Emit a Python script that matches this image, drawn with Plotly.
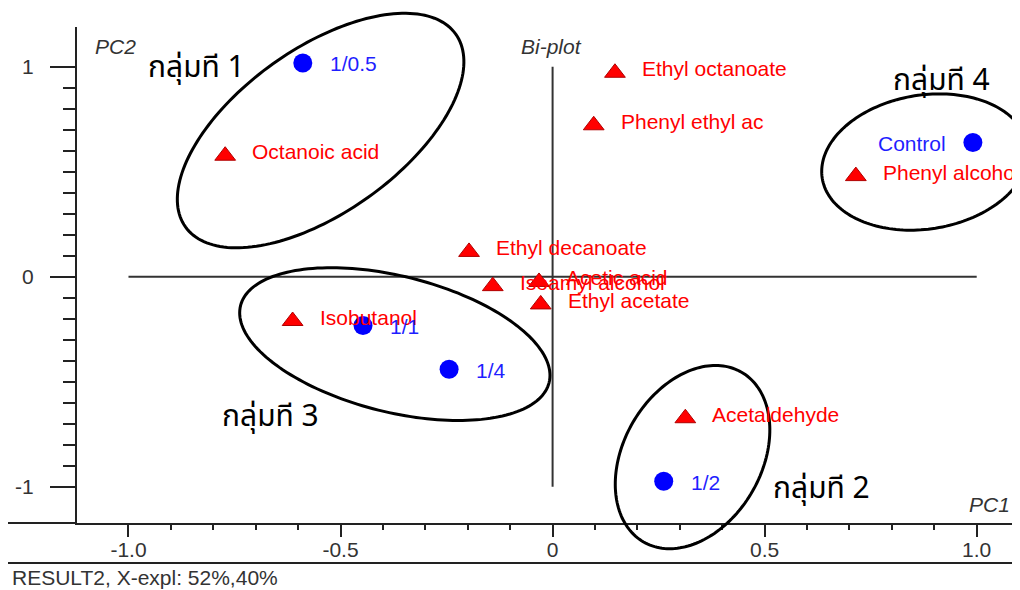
import numpy as np
import plotly.graph_objects as go

# ---------------- data ----------------
sample_names = ["1/0.5", "Control", "1/1", "1/4", "1/2"]
sample_pc1 = [-0.589, 0.991, -0.447, -0.244, 0.262]
sample_pc2 = [1.018, 0.639, -0.232, -0.441, -0.974]

var_names = ["Ethyl octanoate", "Phenyl ethyl ac", "Octanoic acid", "Phenyl alcohol",
             "Ethyl decanoate", "Isoamyl alcohol", "Acetic acid", "Ethyl acetate",
             "Isobutanol", "Acetaldehyde"]
var_pc1 = [0.147, 0.097, -0.772, 0.715, -0.197, -0.141, -0.032, -0.028, -0.613, 0.313]
var_pc2 = [0.971, 0.721, 0.576, 0.479, 0.118, -0.045, -0.025, -0.132, -0.211, -0.674]

group_labels = ["กลุ่มที 1", "กลุ่มที 2", "กลุ่มที 3", "กลุ่มที 4"]

x_tickvals = [-1.0, -0.5, 0.0, 0.5, 1.0]
x_ticktext = ["-1.0", "-0.5", "0", "0.5", "1.0"]
y_tickvals = [-1, 0, 1]
y_ticktext = ["-1", "0", "1"]

footer_text = "RESULT2, X-expl: 52%,40%"

# ---------------- layout geometry / styles ----------------
OFF = 8                      # page body margin of the html page
W, H = 1020 - OFF, 590 - OFF
# plot area in window pixels: x 77..1020, y 27..523
ML, MR, MT = 77 - OFF, 0, 27 - OFF
MB = H - (523 - OFF)
PW, PH = W - ML - MR, H - MT - MB
X0, X1 = -1.1214, 1.1021
Y0, Y1 = -1.1729, 1.189

# group label anchor positions (data coords) and ellipse geometry
group_label_pos = [(-0.954, 0.994), (0.520, -1.011), (-0.779, -0.668), (0.803, 0.932)]
# (center x, center y in data units, semi-major px, semi-minor px, angle deg)
ellipses = [(-0.547, 0.696, 166, 82, 35.5),
            (0.330, -0.859, 98, 69, 60.0),
            (-0.372, -0.321, 159, 68, -14.0),
            (0.878, 0.546, 104, 67, 9.0)]

FONT = "Liberation Sans, Arial, sans-serif"
THAI_FONT = "Noto Sans Thai, Loma, Garuda, Tlwg Typo, DejaVu Sans, sans-serif"
AX_COL = "#222222"
TXT_COL = "#333333"
BLUE = "#0000ff"
RED = "#ff0000"


def data_to_px(x, y):
    """data -> figure pixels"""
    return ML + (x - X0) / (X1 - X0) * PW, MT + (Y1 - y) / (Y1 - Y0) * PH


def win_to_paper(wx, wy):
    """window pixels -> paper coords"""
    fx, fy = wx - OFF, wy - OFF
    return (fx - ML) / PW, (H - MB - fy) / PH


def fig_to_paper(fx, fy):
    return (fx - ML) / PW, (H - MB - fy) / PH


fig = go.Figure()

fig.add_trace(go.Scatter(
    x=var_pc1, y=var_pc2, mode="markers",
    marker=dict(symbol="triangle-up", size=18, color=RED,
                line=dict(color="#b00000", width=1)),
    hoverinfo="text", text=var_names, showlegend=False))

fig.add_trace(go.Scatter(
    x=sample_pc1, y=sample_pc2, mode="markers",
    marker=dict(symbol="circle", size=19, color=BLUE, line=dict(width=0)),
    hoverinfo="text", text=sample_names, showlegend=False))

annotations = []
for name, x, y in zip(var_names, var_pc1, var_pc2):
    annotations.append(dict(x=x, y=y, xref="x", yref="y", text=name, showarrow=False,
                            xanchor="left", yanchor="middle", xshift=25, yshift=4,
                            font=dict(family=FONT, size=21, color=RED)))
for name, x, y in zip(sample_names, sample_pc1, sample_pc2):
    right = name == "Control"
    annotations.append(dict(x=x, y=y, xref="x", yref="y", text=name, showarrow=False,
                            xanchor="right" if right else "left", yanchor="middle",
                            xshift=-25 if right else 25, yshift=-1,
                            font=dict(family=FONT, size=21, color="#1f1fff")))

for lab, (gx, gy) in zip(group_labels, group_label_pos):
    annotations.append(dict(x=gx, y=gy, xref="x", yref="y", text=lab, showarrow=False,
                            xanchor="left", yanchor="middle", xshift=-2,
                            font=dict(family=THAI_FONT, size=30, color="#000000")))


def win_annot(text, wx, wy, xanchor, size=21, italic=True, color=TXT_COL, family=FONT):
    xp, yp = win_to_paper(wx, wy)
    return dict(x=xp, y=yp, xref="paper", yref="paper", text=text, showarrow=False,
                xanchor=xanchor, yanchor="middle",
                font=dict(family=family, size=size, color=color,
                          style="italic" if italic else "normal"))


annotations.append(win_annot("PC2", 93, 46, "left"))
annotations.append(win_annot("Bi-plot", 519, 46, "left"))
annotations.append(win_annot("PC1", 1012, 504, "right"))
annotations.append(win_annot(footer_text, 10, 577, "left", italic=False))

shapes = []
# bi-plot cross lines
shapes.append(dict(type="line", xref="x", yref="y", x0=-1, x1=1, y0=0, y1=0,
                   line=dict(color="#333333", width=2), layer="below"))
shapes.append(dict(type="line", xref="x", yref="y", x0=0, x1=0, y0=-1, y1=1,
                   line=dict(color="#333333", width=2), layer="below"))
# x-axis line extension and lower separator
xa, _ = win_to_paper(8, 523)
shapes.append(dict(type="line", xref="paper", yref="paper", x0=xa, x1=0, y0=0, y1=0,
                   line=dict(color=AX_COL, width=2)))
xs, ys = win_to_paper(8, 563)
shapes.append(dict(type="line", xref="paper", yref="paper", x0=xs, x1=1, y0=ys, y1=ys,
                   line=dict(color=AX_COL, width=2)))

# group ellipses
t = np.linspace(0, 2 * np.pi, 181)
for cx, cy, a, b, ang in ellipses:
    pcx, pcy = data_to_px(cx, cy)
    th = np.deg2rad(ang)
    ex, ey = a * np.cos(t), b * np.sin(t)
    px = pcx + ex * np.cos(th) - ey * np.sin(th)
    py = pcy - (ex * np.sin(th) + ey * np.cos(th))
    pts = [fig_to_paper(u, v) for u, v in zip(px, py)]
    path = "M " + " L ".join(f"{u:.5f},{v:.5f}" for u, v in pts) + " Z"
    shapes.append(dict(type="path", xref="paper", yref="paper", path=path,
                       line=dict(color="#000000", width=3)))

minor_x = [round(v, 1) for v in np.arange(-1.0, 1.01, 0.1)]
minor_y = [round(v, 1) for v in np.arange(-1.0, 1.01, 0.1)]

fig.update_layout(
    width=W, height=H,
    margin=dict(l=ML, r=MR, t=MT, b=MB, pad=0),
    paper_bgcolor="white", plot_bgcolor="white",
    showlegend=False,
    annotations=annotations, shapes=shapes,
    xaxis=dict(range=[X0, X1], showgrid=False, zeroline=False,
               showline=True, linecolor=AX_COL, linewidth=2,
               ticks="outside", ticklen=12, tickwidth=2, tickcolor=AX_COL,
               tickmode="array", tickvals=x_tickvals, ticktext=x_ticktext,
               tickfont=dict(family=FONT, size=21, color=TXT_COL),
               ticklabelstandoff=-5,
               minor=dict(tickmode="array", tickvals=minor_x, ticks="outside",
                          ticklen=5, tickwidth=2, tickcolor=AX_COL, showgrid=False)),
    yaxis=dict(range=[Y0, Y1], showgrid=False, zeroline=False,
               showline=True, linecolor=AX_COL, linewidth=2,
               ticks="outside", ticklen=25, tickwidth=2, tickcolor=AX_COL,
               tickmode="array", tickvals=y_tickvals, ticktext=y_ticktext,
               tickfont=dict(family=FONT, size=21, color=TXT_COL),
               ticklabelstandoff=12,
               minor=dict(tickmode="array", tickvals=minor_y, ticks="outside",
                          ticklen=12, tickwidth=2, tickcolor=AX_COL, showgrid=False)),
)

fig.write_html("out.html")
